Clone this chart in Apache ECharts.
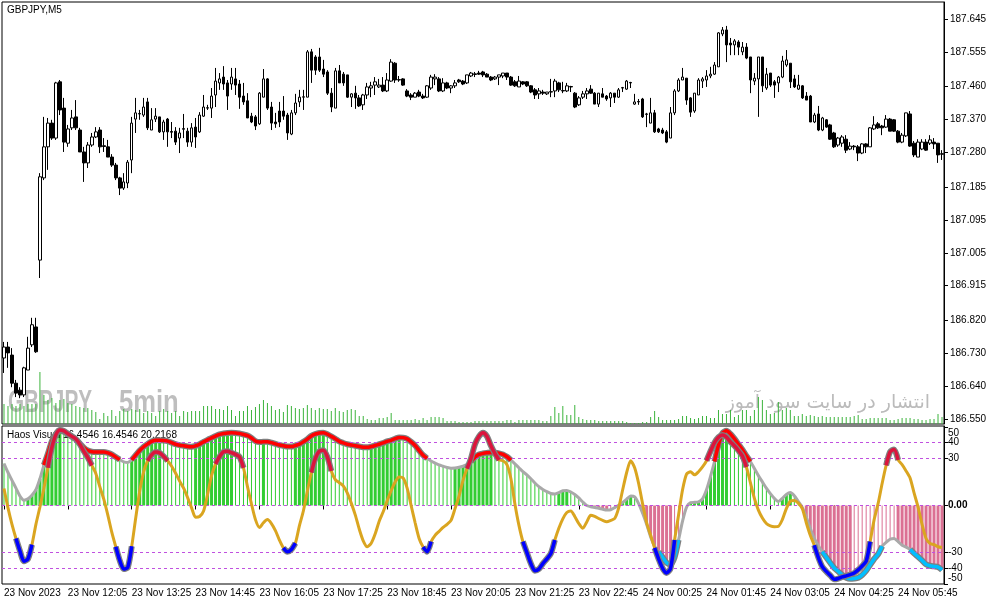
<!DOCTYPE html>
<html><head><meta charset="utf-8">
<script src="https://cdn.jsdelivr.net/npm/echarts/dist/echarts.min.js"></script>
<style>html,body{margin:0;padding:0;background:#fff;}#c{width:991px;height:605px;}</style>
</head><body><div id="c"></div>
<script>
const tickLabels = ['23 Nov 2023','23 Nov 12:05','23 Nov 13:25','23 Nov 14:45','23 Nov 16:05','23 Nov 17:25','23 Nov 18:45','23 Nov 20:05','23 Nov 21:25','23 Nov 22:45','24 Nov 00:25','24 Nov 01:45','24 Nov 03:05','24 Nov 04:25','24 Nov 05:45'];
const priceTicks = ['186.550','186.640','186.730','186.820','186.915','187.005','187.095','187.185','187.280','187.370','187.460','187.555','187.645'];
const oscTicks = [-50,-40,-30,0,30,40,50];
const oscEdgeTicks = [-50,50];
const levels = [40,30,0,-30,-40];

// [open, close, low, high]
const candles = [
[186.717,186.747,186.676,186.761],[186.747,186.731,186.690,186.761],[186.725,186.648,186.637,186.744],[186.648,186.621,186.610,186.657],[186.629,186.616,186.607,186.637],
[186.616,186.690,186.610,186.693],[186.684,186.744,186.684,186.775],[186.753,186.808,186.747,186.827],[186.802,186.734,186.731,186.827],[186.985,187.213,186.936,187.223],
[187.210,187.295,187.204,187.377],[187.295,187.360,187.232,187.374],[187.360,187.319,187.314,187.369],[187.319,187.470,187.314,187.473],[187.473,187.396,187.382,187.478],
[187.401,187.308,187.281,187.429],[187.305,187.344,187.295,187.355],[187.347,187.374,187.341,187.396],[187.377,187.347,187.341,187.423],[187.341,187.281,187.281,187.347],
[187.281,187.251,187.199,187.295],[187.251,187.300,187.237,187.308],[187.300,187.322,187.295,187.333],[187.322,187.336,187.319,187.349],[187.341,187.295,187.278,187.349],
[187.298,187.296,187.281,187.319],[187.295,187.267,187.267,187.314],[187.267,187.245,187.240,187.275],[187.245,187.210,187.204,187.251],[187.210,187.182,187.163,187.213],
[187.182,187.199,187.177,187.223],[187.196,187.253,187.182,187.259],[187.259,187.360,187.223,187.377],[187.371,187.388,187.333,187.429],[187.386,187.385,187.369,187.396],
[187.382,187.404,187.377,187.429],[187.418,187.347,187.341,187.429],[187.341,187.369,187.341,187.401],[187.371,187.379,187.363,187.401],[187.377,187.336,187.333,187.377],
[187.336,187.363,187.314,187.369],[187.371,187.336,187.295,187.374],[187.337,187.335,187.319,187.363],[187.338,187.308,187.300,187.349],[187.319,187.333,187.278,187.347],
[187.343,187.345,187.319,187.385],[187.338,187.308,187.295,187.347],[187.308,187.347,187.295,187.360],[187.349,187.322,187.292,187.374],[187.336,187.382,187.333,187.390],
[187.379,187.404,187.377,187.437],[187.402,187.401,187.396,187.410],[187.401,187.434,187.374,187.456],[187.437,187.475,187.404,187.511],[187.470,187.481,187.451,187.497],
[187.486,187.467,187.451,187.516],[187.470,187.434,187.396,187.478],[187.467,187.486,187.451,187.511],[187.481,187.464,187.437,187.511],[187.467,187.431,187.399,187.478],
[187.434,187.418,187.410,187.470],[187.421,187.374,187.374,187.442],[187.379,187.363,187.360,187.388],[187.377,187.352,187.341,187.382],[187.358,187.442,187.355,187.445],
[187.431,187.481,187.431,187.508],[187.481,187.401,187.396,187.483],[187.404,187.360,187.341,187.418],[187.363,187.358,187.347,187.388],[187.393,187.363,187.349,187.418],
[187.393,187.379,187.369,187.434],[187.382,187.333,187.314,187.388],[187.330,187.388,187.327,187.396],[187.388,187.415,187.382,187.440],[187.418,187.431,187.404,187.451],
[187.431,187.432,187.396,187.451],[187.431,187.555,187.431,187.560],[187.555,187.505,187.470,187.563],[187.541,187.505,187.492,187.546],[187.541,187.505,187.500,187.566],
[187.508,187.494,187.486,187.533],[187.500,187.442,187.437,187.505],[187.442,187.404,187.390,187.456],[187.401,187.503,187.401,187.511],[187.503,187.470,187.470,187.519],
[187.494,187.470,187.462,187.500],[187.492,187.431,187.429,187.492],[187.431,187.440,187.404,187.442],[187.442,187.429,187.399,187.462],[187.429,187.407,187.404,187.437],
[187.410,187.437,187.396,187.440],[187.437,187.459,187.426,187.470],[187.456,187.462,187.431,187.473],[187.464,187.473,187.437,187.486],[187.459,187.464,187.456,187.481],
[187.464,187.448,187.445,187.486],[187.448,187.478,187.445,187.497],[187.475,187.527,187.473,187.535],[187.524,187.478,187.470,187.527],[187.479,187.478,187.473,187.489],
[187.481,187.464,187.462,187.483],[187.448,187.434,187.431,187.453],[187.437,187.431,187.423,187.442],[187.431,187.442,187.431,187.445],[187.445,187.434,187.431,187.451],
[187.434,187.429,187.426,187.440],[187.431,187.462,187.429,187.464],[187.456,187.486,187.451,187.492],[187.481,187.486,187.464,187.494],[187.481,187.448,187.445,187.486],
[187.448,187.470,187.445,187.483],[187.470,187.456,187.453,187.473],[187.456,187.462,187.442,187.464],[187.462,187.470,187.456,187.478],[187.478,187.473,187.470,187.481],
[187.475,187.467,187.464,187.478],[187.470,187.492,187.467,187.492],[187.489,187.497,187.486,187.500],[187.493,187.495,187.486,187.500],[187.497,187.494,187.492,187.503],
[187.500,187.492,187.486,187.503],[187.494,187.486,187.486,187.497],[187.486,187.478,187.475,187.489],[187.481,187.486,187.478,187.489],[187.486,187.492,187.464,187.492],
[187.489,187.497,187.483,187.497],[187.497,187.486,187.478,187.497],[187.486,187.464,187.462,187.489],[187.473,187.462,187.459,187.478],[187.459,187.475,187.459,187.489],
[187.473,187.467,187.464,187.475],[187.473,187.462,187.459,187.475],[187.462,187.445,187.442,187.464],[187.451,187.437,187.426,187.456],[187.440,187.448,187.426,187.456],
[187.445,187.442,187.437,187.451],[187.440,187.445,187.437,187.445],[187.446,187.445,187.431,187.481],[187.448,187.475,187.431,187.481],[187.470,187.451,187.445,187.473],
[187.449,187.448,187.442,187.473],[187.448,187.462,187.445,187.470],[187.460,187.459,187.445,187.462],[187.442,187.404,187.401,187.445],[187.410,187.429,187.407,187.434],
[187.431,187.440,187.426,187.448],[187.440,187.448,187.426,187.456],[187.453,187.442,187.440,187.464],[187.442,187.412,187.412,187.445],[187.412,187.442,187.404,187.442],
[187.440,187.431,187.431,187.456],[187.434,187.426,187.421,187.437],[187.429,187.442,187.404,187.445],[187.442,187.431,187.415,187.442],[187.431,187.451,187.429,187.456],
[187.457,187.456,187.445,187.459],[187.453,187.475,187.451,187.478],[187.471,187.470,187.456,187.473],[187.412,187.418,187.410,187.440],[187.419,187.418,187.410,187.426],
[187.426,187.377,187.374,187.429],[187.385,187.384,187.349,187.388],[187.360,187.388,187.360,187.429],[187.388,187.336,187.333,187.396],[187.344,187.336,187.333,187.347],
[187.341,187.333,187.330,187.347],[187.336,187.308,187.305,187.341],[187.319,187.388,187.319,187.404],[187.388,187.448,187.382,187.453],[187.448,187.478,187.445,187.483],
[187.478,187.486,187.478,187.511],[187.483,187.423,187.410,187.483],[187.429,187.390,187.377,187.431],[187.393,187.442,187.388,187.442],[187.437,187.478,187.437,187.483],
[187.475,187.481,187.456,187.486],[187.478,187.489,187.459,187.505],[187.489,187.494,187.483,187.514],[187.494,187.519,187.492,187.527],[187.514,187.607,187.514,187.609],
[187.604,187.615,187.598,187.623],[187.615,187.574,187.527,187.626],[187.579,187.574,187.546,187.593],[187.574,187.585,187.546,187.590],[187.582,187.568,187.546,187.587],
[187.555,187.568,187.546,187.582],[187.568,187.538,187.535,187.579],[187.541,187.478,187.442,187.541],[187.475,187.483,187.464,187.497],[187.481,187.541,187.377,187.541],
[187.541,187.462,187.445,187.541],[187.456,187.494,187.451,187.511],[187.497,187.464,187.459,187.497],[187.473,187.464,187.429,187.478],[187.470,187.486,187.445,187.489],
[187.486,187.530,187.483,187.544],[187.519,187.533,187.514,187.560],[187.524,187.473,187.456,187.524],[187.481,187.459,187.456,187.492],[187.453,187.464,187.451,187.492],
[187.462,187.429,187.426,187.464],[187.434,187.423,187.423,187.445],[187.434,187.363,187.363,187.437],[187.363,187.382,187.360,187.388],[187.385,187.341,187.338,187.407],
[187.341,187.374,187.338,187.377],[187.369,187.349,187.347,187.371],[187.355,187.316,187.314,187.358],[187.333,187.295,187.292,187.336],[187.300,187.319,187.295,187.322],
[187.305,187.322,187.295,187.327],[187.316,187.286,187.278,187.327],[187.289,187.297,187.286,187.308],[187.297,187.295,187.286,187.300],[187.295,187.278,187.256,187.300],
[187.278,187.303,187.275,187.305],[187.303,187.295,187.278,187.305],[187.295,187.347,187.295,187.349],[187.344,187.355,187.341,187.379],[187.358,187.347,187.344,187.363],
[187.352,187.347,187.327,187.355],[187.349,187.371,187.347,187.382],[187.371,187.338,187.338,187.374],[187.369,187.338,187.336,187.371],[187.338,187.308,187.305,187.341],
[187.308,187.327,187.305,187.333],[187.325,187.388,187.322,187.388],[187.385,187.297,187.295,187.393],[187.305,187.273,187.267,187.311],[187.267,187.308,187.267,187.316],
[187.289,187.308,187.286,187.316],[187.308,187.286,187.284,187.316],[187.305,187.314,187.300,187.327],[187.308,187.303,187.289,187.319],[187.305,187.273,187.251,187.305],
[187.276,187.275,187.259,187.286]
];

const volumes = [
20,18,20,18,20,18,20,20,20,52, 29,24,26,21,24,25,21,20,18,17, 16,16,14,12,5,11,8,14,8,13,
15,13,15,14,15,11,13,11,8,13, 15,13,11,13,8,13,12,13,13,13, 18,18,18,15,15,14,18,14,8,13,
13,18,14,17,20,24,21,18,14,15, 12,19,18,16,15,16,19,16,14,16, 15,15,13,16,13,12,14,15,14,8,
8,5,4,4,6,6,7,11,4,4, 4,4,4,5,4,6,4,7,7,7, 6,3,3,3,2,2,2,2,3,3,
3,3,3,3,3,3,4,4,2,4, 4,4,4,4,4,3,3,8,17,11, 18,9,9,19,7,5,4,4,4,3,
3,3,3,3,3,3,2,1,1,1, 2,2,7,13,7,4,4,4,4,5, 8,8,6,5,6,8,8,6,6,14,
10,10,14,7,9,14,14,8,14,27, 24,14,10,11,22,14,16,14,8,8, 10,8,9,8,7,8,7,7,7,7,
7,7,7,8,9,5,5,6,6,6, 6,6,4,4,5,6,6,6,5,5, 4,4,5,5,10,7
];

const slow = [
26.7,21,16,11,6,3.4,4.2,6.5,10,17, 25.7,33,41,45.5,47.8,47,45.6,43.8,42.2,39.5,
36.8,35,34.2,34,34,34,33.5,32.5,30.8,29.2, 27.8,27.4,29,32,35,37.4,39.2,40.8,41.5,41.6,
41.4,41,40,39,38.4,38,37.6,37.4,38,39, 40.5,41.8,43,44.2,45.3,45.8,46.2,46.3,46.2,45.8,
45.2,44.5,43,41,40.4,40.5,40.5,40,39.2,38.5, 38,37.5,37.5,38.2,39,40.5,42.3,44.3,45.5,46.2,
46.3,45.4,44,42.5,40.8,39.8,39,38.5,38,37.5, 37.1,37,37.5,38.2,39,39.8,40.8,41.5,42.5,43.3,
43.2,42.4,40.5,38.2,35,32,30,28.3,27,25.8, 25,24.2,23.7,23.8,24.3,25,26,28,30.8,32.5,
33.1,33.5,33.8,33.6,33.2,32.5,31,28.8,26.5,24, 21.5,19.5,17,14.3,12,10.2,8.8,7.6,7.3,8.2,
9.4,9.6,8.6,7,4.8,2.2,0,-0.8,-1.3,-1.8, -2.4,-2.9,-2.7,-1.4,0.1,2,4,6,5.5,1.2,
-5,-12,-20,-26,-29.5,-33,-36.5,-37.5,-33,-22, -10,-1,1.8,2,2.3,4.2,10,18.5,28,38.5,
46,47.5,45.5,42.5,39,35.5,31.5,28,23.5,19, 15,11,7.5,4.5,2.5,4.5,7,8.2,6.2,2.5,
-1.2,-7.5,-14.5,-21,-25.5,-29.5,-33,-36.5,-39.8,-42, -44.2,-46,-46.7,-46.5,-46,-44.2,-41.5,-37.8,-34,-31,
-26,-23.5,-21.5,-21,-23,-25.3,-26.5,-28,-30.5,-32.7, -35,-37.5,-38.4,-38.8,-39.2,-41
];

const fast = [
10.8,-1.5,-12,-21,-29,-35.5,-34,-25,-12,-1, 11,24,37,45,48,47.5,45.7,44,42.3,39,
34.5,30.5,25.5,20.4,12,4,-6,-17,-26.3,-35, -40.5,-39.5,-26,-8,9,21.5,28.5,32.2,34,33.5,
31.2,28.5,25,20.5,15.5,11,5,-1.5,-7.5,-7, -3.5,7,19,26.5,31,34.2,34.5,33.6,32.5,31,
24,12,1,-9,-14,-11,-9,-11.5,-16,-22, -27,-29.5,-28,-24,-13,-3.5,9,21,30,34.5,
35.2,31,22,16.5,14.5,12.5,8,1.5,-6,-15, -22.5,-26.3,-24,-18,-10,-4,3,9.5,15,18.2,
17.5,11,0,-11,-21,-26.5,-29.5,-23,-19,-16.5, -14,-12,-9.5,-2,6,16,23.5,30,39,44,
46.3,44,38,33,29,28.5,26,17,1,-12.5, -23,-30,-37,-41.5,-40.5,-37,-34,-30.6,-22,-14.5,
-8.5,-4.5,-3.5,-7,-11.5,-14.5,-10.5,-6.2,-7,-8.3, -9.5,-10.3,-9.5,-8.3,-1.5,10,21,28.5,24,14,
1,-11,-19,-27,-34,-40,-43,-40,-22,-6, 10,20,21.4,19.5,21.5,24.5,28.5,34.5,40,43.5,
44.8,43.5,40.5,38,35,31.5,24.5,14.5,4.5,-3, -8,-11.5,-13,-13.5,-13.3,-9,-2,2.8,3.2,1.5,
-2,-11,-19,-25.3,-33,-39,-42,-44.5,-47,-46.5, -45.5,-44.8,-44,-43,-41,-38.5,-35.5,-23,-9,1.3,
14,25.5,34.2,35.7,29,26,22,17.5,8,-1, -12,-21,-24.2,-25,-26.3,-26.8
];

const N = candles.length;
const cats = candles.map((_, i) => String(i));
const showTick = (i) => i % 16 === 0;

function hl(arr, cond) {
  return arr.map((v, i) => (cond(v) || (i > 0 && cond(arr[i - 1])) || (i < arr.length - 1 && cond(arr[i + 1]))) ? v : '-');
}
const thick = slow.map((v, i) => (i > 0 && Math.abs(v) > Math.abs(slow[i - 1])) ? v : '-');
const thin = slow.map((v, i) => (i > 0 && Math.abs(v) > Math.abs(slow[i - 1])) ? '-' : v);
const histColor = (p) => (p.value >= 0 ? '#32CD32' : '#DB7093');

const priceVals = priceTicks.map(Number);
const innerOsc = oscTicks.filter(v => oscEdgeTicks.indexOf(v) < 0);
const FONT = '"Liberation Sans", Arial, sans-serif';

function lineS(data, color, width, z) {
  return { type: 'line', xAxisIndex: 1, yAxisIndex: 2, data: data, showSymbol: false, symbol: 'none', smooth: 0.25,
    lineStyle: { color: color, width: width }, z: z, silent: true };
}
const slowRed = hl(slow, v => v > 30);
const slowCyan = hl(slow, v => v < -30);
const fastRed = hl(fast, v => v > 29);
const fastBlue = hl(fast, v => v < -27);

const chart = echarts.init(document.getElementById('c'), null, { renderer: 'canvas' });
chart.setOption({
  animation: false,
  backgroundColor: '#ffffff',
  textStyle: { fontFamily: FONT },
  grid: [
    { left: 2, top: 2, right: 47, height: 422, show: true, borderColor: '#000', borderWidth: 1, backgroundColor: 'transparent' },
    { left: 2, top: 426, right: 47, height: 158, show: true, borderColor: '#000', borderWidth: 1, backgroundColor: 'transparent' }
  ],
  xAxis: [
    { type: 'category', gridIndex: 0, data: cats, axisLine: { show: false }, axisTick: { show: false }, axisLabel: { show: false }, splitLine: { show: false } },
    { type: 'category', gridIndex: 1, data: cats, axisLine: { show: false },
      axisTick: { show: true, alignWithLabel: true, interval: (i) => showTick(i), length: 4, lineStyle: { color: '#000' } },
      axisLabel: { interval: (i) => showTick(i), formatter: (v, i) => tickLabels[i / 16] || '', align: 'left', margin: 4, fontSize: 10, color: '#000', fontFamily: FONT },
      splitLine: { show: false } },
    { type: 'category', gridIndex: 1, data: cats, show: false }
  ],
  yAxis: [
    { type: 'value', gridIndex: 0, position: 'right', min: 186.5363, max: 187.6915,
      axisLine: { show: true, lineStyle: { color: '#000' } }, splitLine: { show: false },
      axisTick: { show: true, customValues: priceVals, length: 4, lineStyle: { color: '#000' } },
      axisLabel: { customValues: priceVals, margin: 6, fontSize: 10, color: '#000', fontFamily: FONT, showMinLabel: true, showMaxLabel: true,
        formatter: (v) => { const t = priceTicks.find(s => Math.abs(Number(s) - v) < 1e-6); return t || ''; } } },
    { type: 'value', gridIndex: 0, min: 0, max: 422, show: false, splitLine: { show: false } },
    { type: 'value', gridIndex: 1, position: 'right', min: -50, max: 50.6,
      axisLine: { show: true, lineStyle: { color: '#000' } }, splitLine: { show: false },
      axisTick: { show: true, customValues: oscTicks, length: 4, lineStyle: { color: '#000' } },
      axisLabel: { customValues: innerOsc, margin: 4, fontSize: 10, color: '#000', fontFamily: FONT, showMinLabel: true, showMaxLabel: true,
        formatter: (v) => v === 0 ? '{z|0.00}' : String(v),
        rich: { z: { fontWeight: 'bold', fontSize: 10 } } } },
    { type: 'value', gridIndex: 1, position: 'right', min: -50, max: 50.6,
      axisLine: { show: false }, splitLine: { show: false }, axisTick: { show: false },
      axisLabel: { customValues: oscEdgeTicks, margin: 4, fontSize: 10, color: '#000', fontFamily: FONT, showMinLabel: true, showMaxLabel: true,
        formatter: (v) => v > 0 ? '{t|' + v + '}' : '{b|' + v + '}',
        rich: { t: { padding: [12, 0, 0, 0], fontSize: 10 }, b: { padding: [0, 0, 12, 0], fontSize: 10 } } } }
  ],
  graphic: [
    { type: 'text', x: 8, y: 403.5, scaleX: 0.647, z: 0, silent: true,
      style: { text: 'GBPJPY', font: 'bold 32px "Liberation Sans", Arial, sans-serif', fill: '#bebebe', verticalAlign: 'middle', textVerticalAlign: 'middle' } },
    { type: 'text', x: 119, y: 403.5, scaleX: 0.8, z: 0, silent: true,
      style: { text: '5min', font: 'bold 32px "Liberation Sans", Arial, sans-serif', fill: '#bebebe', verticalAlign: 'middle', textVerticalAlign: 'middle' } },
    { type: 'text', x: 930, y: 403, z: 0, silent: true,
      style: { text: 'انتشار در سایت سود آموز', font: '19px "DejaVu Sans", "Noto Sans", sans-serif', fill: '#bbbbbb', align: 'right', textAlign: 'right', verticalAlign: 'middle', textVerticalAlign: 'middle' } },
    { type: 'text', x: 7, y: 10.5, z: 10, silent: true,
      style: { text: 'GBPJPY,M5', font: '10px "Liberation Sans", Arial, sans-serif', fill: '#000', verticalAlign: 'middle', textVerticalAlign: 'middle' } },
    { type: 'text', x: 7, y: 435.5, z: 2.5, silent: true,
      style: { text: 'Haos Visual 16.4546 16.4546 20.2168', font: '10px "Liberation Sans", Arial, sans-serif', fill: '#000', verticalAlign: 'middle', textVerticalAlign: 'middle' } }
  ],
  series: [
    { type: 'bar', xAxisIndex: 0, yAxisIndex: 1, data: volumes, barWidth: 1, itemStyle: { color: '#3CB43C' }, z: 2, silent: true },
    { type: 'candlestick', xAxisIndex: 0, yAxisIndex: 0, data: candles, barWidth: 3, z: 3, silent: true,
      itemStyle: { color: '#ffffff', color0: '#000000', borderColor: '#000000', borderColor0: '#000000', borderWidth: 1 } },
    { type: 'bar', xAxisIndex: 1, yAxisIndex: 2, data: thick, barWidth: 3, itemStyle: { color: histColor }, z: 1, silent: true },
    { type: 'bar', xAxisIndex: 2, yAxisIndex: 2, data: thin, barWidth: 1, itemStyle: { color: histColor }, z: 2, silent: true,
      markLine: { silent: true, symbol: ['none', 'none'], label: { show: false },
        lineStyle: { color: '#C050E0', type: [3, 3], width: 1 },
        data: levels.map(v => ({ yAxis: v })) } },
    lineS(slow, '#A9A9A9', 3, 3),
    lineS(slowRed, '#7F7F7F', 6, 4),
    lineS(slowCyan, '#7F7F7F', 6, 4),
    lineS(slowRed, '#FF0000', 3.5, 5),
    lineS(slowCyan, '#00BFFF', 3.5, 5),
    lineS(fast, '#DAA520', 3, 6),
    lineS(fastRed, '#7F7F7F', 6, 7),
    lineS(fastBlue, '#7F7F7F', 6, 7),
    lineS(fastRed, '#DC143C', 3.5, 8),
    lineS(fastBlue, '#0000FF', 3.5, 8)
  ]
});
</script>
</body></html>
